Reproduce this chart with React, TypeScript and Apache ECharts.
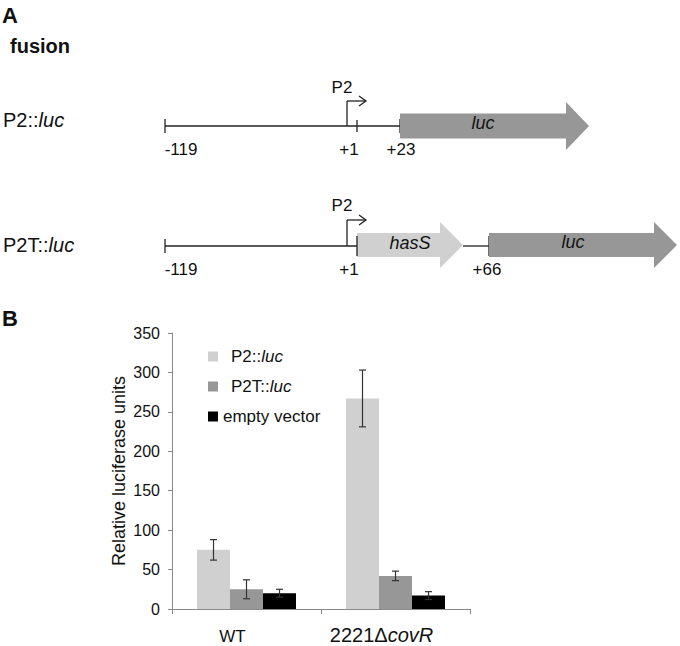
import React, { useEffect, useRef } from "react";
import * as echarts from "echarts";

const categories = ["WT", "2221ΔcovR"];
const seriesNames = ["P2::luc", "P2T::luc", "empty vector"];
const p2Luc = [75, 267];
const p2tLuc = [25, 42];
const emptyVector = [20, 17];
const p2LucErr = [[62, 88], [231, 303]];
const p2tLucErr = [[13, 37], [36, 48]];
const emptyErr = [[15, 25], [12, 22]];
const yTicks = { min: 0, max: 350, interval: 50 };

const FONT = "Liberation Sans, Arial, sans-serif";
const LIGHT = "#d0d0d0";
const MID = "#979797";
const AXIS = "#8a8a8a";

function hline(x1: number, x2: number, y: number, w = 1.3) {
  return { type: "line", shape: { x1, y1: y, x2, y2: y }, style: { stroke: "#222", lineWidth: w } };
}
function vline(x: number, y1: number, y2: number, w = 1.3) {
  return { type: "line", shape: { x1: x, y1, x2: x, y2 }, style: { stroke: "#222", lineWidth: w } };
}
function txt(text: string, x: number, y: number, size: number, opts: any = {}) {
  return {
    type: "text",
    x,
    y,
    style: {
      text,
      fontSize: size,
      fontFamily: FONT,
      fill: "#111",
      align: opts.align || "center",
      verticalAlign: "middle",
      fontWeight: opts.bold ? "bold" : "normal",
      fontStyle: opts.italic ? "italic" : "normal",
      rich: opts.rich,
    },
  };
}
function geneArrow(x1: number, xh: number, x2: number, yc: number, half: number, headHalf: number, color: string) {
  return {
    type: "polygon",
    shape: {
      points: [
        [x1, yc - half],
        [xh, yc - half],
        [xh, yc - headHalf],
        [x2, yc],
        [xh, yc + headHalf],
        [xh, yc + half],
        [x1, yc + half],
      ],
    },
    style: { fill: color },
  };
}
function promoter(x: number, yBase: number, yTop: number, xEnd: number) {
  return [
    vline(x, yBase, yTop),
    hline(x, xEnd, yTop),
    {
      type: "polyline",
      shape: { points: [[xEnd - 7, yTop - 5], [xEnd, yTop], [xEnd - 7, yTop + 5]] },
      style: { stroke: "#222", lineWidth: 1.3, fill: "none" },
    },
  ];
}

const richLabel = {
  n: { fontSize: 20, fontFamily: FONT, fill: "#111" },
  i: { fontSize: 20, fontFamily: FONT, fill: "#111", fontStyle: "italic" },
};

export default function App() {
  const ref = useRef<HTMLDivElement>(null);
  useEffect(() => {
    if (!ref.current) return;
    const chart = echarts.init(ref.current, null, { renderer: "svg" });
    const barW = 33;
    const offsets = [-barW, 0, barW];
    const errData: any[] = [];
    [p2LucErr, p2tLucErr, emptyErr].forEach((arr, si) => {
      arr.forEach((e, ci) => errData.push([ci, e[0], e[1], si]));
    });

    const graphic: any[] = [
      txt("A", 2, 15, 22, { bold: true, align: "left" }),
      txt("fusion", 10, 46, 20, { bold: true, align: "left" }),
      txt("B", 2, 318, 22, { bold: true, align: "left" }),
      // row 1
      txt("{n|P2::}{i|luc}", 3, 120, 20, { align: "left", rich: richLabel }),
      hline(165, 400, 126),
      vline(165, 119, 133),
      vline(357, 120, 132),
      vline(400, 119, 133),
      ...promoter(347, 126, 101, 366),
      txt("P2", 342, 87, 17),
      geneArrow(400, 566, 589, 126, 12.5, 24, MID),
      txt("luc", 483, 123, 18, { italic: true }),
      txt("-119", 181, 149, 17),
      txt("+1", 349, 149, 17),
      txt("+23", 401, 149, 17),
      // row 2
      txt("{n|P2T::}{i|luc}", 3, 245, 20, { align: "left", rich: richLabel }),
      hline(165, 357, 246),
      vline(165, 239, 253),
      ...promoter(347, 246, 220, 366),
      txt("P2", 342, 205, 17),
      geneArrow(357, 440, 463, 245, 12, 23, LIGHT),
      vline(357, 236, 256),
      txt("hasS", 410, 243, 18, { italic: true }),
      hline(463, 489, 246),
      vline(489, 236, 256),
      geneArrow(489, 654, 677, 245, 12, 23, MID),
      txt("luc", 573, 242, 18, { italic: true }),
      txt("-119", 181, 269, 17),
      txt("+1", 349, 269, 17),
      txt("+66", 487, 269, 17),
    ];

    const legendRich = {
      n: { fontSize: 17, fontFamily: FONT, color: "#111" },
      i: { fontSize: 17, fontFamily: FONT, color: "#111", fontStyle: "italic" },
      pn: { fontSize: 17, fontFamily: FONT, color: "#111", padding: [0, 0, 0, 8] },
    };

    chart.setOption({
      animation: false,
      graphic,
      grid: { left: 172, right: 210, top: 333, bottom: 37, containLabel: false },
      legend: {
        orient: "vertical",
        left: 203,
        top: 343,
        itemWidth: 10,
        itemHeight: 10,
        itemGap: 13,
        icon: "rect",
        data: seriesNames,
        formatter: (name: string) => {
          if (name === "empty vector") return "{n|empty vector}";
          const [a] = name.split("::");
          return `{pn|${a}::}{i|luc}`;
        },
        textStyle: { rich: legendRich, fontSize: 17, fontFamily: FONT },
      },
      xAxis: {
        type: "category",
        data: categories,
        axisLine: { lineStyle: { color: AXIS, width: 1 } },
        axisTick: { show: true, length: 5, lineStyle: { color: AXIS } },
        axisLabel: {
          interval: 0,
          hideOverlap: false,
          margin: 16,
          fontSize: 20,
          fontFamily: FONT,
          color: "#111",
          formatter: (v: string) => (v === "WT" ? "{w|WT}" : "{d|2221Δ}{i|covR}"),
          rich: {
            w: { fontSize: 17, fontFamily: FONT, color: "#111", padding: [3, 28, 0, 0] },
            d: { fontSize: 20, fontFamily: FONT, color: "#111" },
            i: { fontSize: 20, fontFamily: FONT, color: "#111", fontStyle: "italic", padding: [0, 28, 0, 0] },
          },
        },
      },
      yAxis: {
        type: "value",
        min: yTicks.min,
        max: yTicks.max,
        interval: yTicks.interval,
        name: "Relative luciferase units",
        nameLocation: "middle",
        nameGap: 44,
        nameTextStyle: { fontSize: 18, fontFamily: FONT, color: "#111" },
        axisLine: { show: true, lineStyle: { color: AXIS, width: 1 } },
        axisTick: { show: true, length: 4, lineStyle: { color: AXIS } },
        splitLine: { show: false },
        axisLabel: { fontSize: 16, fontFamily: FONT, color: "#111", margin: 12 },
      },
      series: [
        { name: seriesNames[0], type: "bar", data: p2Luc, barWidth: barW, barGap: "0%", itemStyle: { color: LIGHT } },
        { name: seriesNames[1], type: "bar", data: p2tLuc, barWidth: barW, barGap: "0%", itemStyle: { color: MID } },
        { name: seriesNames[2], type: "bar", data: emptyVector, barWidth: barW, barGap: "0%", itemStyle: { color: "#000" } },
        {
          type: "custom",
          z: 10,
          data: errData,
          encode: { x: 0, y: [1, 2] },
          renderItem: (params: any, api: any) => {
            const ci = api.value(0);
            const si = api.value(3);
            const lo = api.coord([ci, api.value(1)]);
            const hi = api.coord([ci, api.value(2)]);
            const x = lo[0] + offsets[si];
            const cap = 3.5;
            const st = { stroke: "#333", lineWidth: 1.2 };
            return {
              type: "group",
              children: [
                { type: "line", shape: { x1: x, y1: lo[1], x2: x, y2: hi[1] }, style: st },
                { type: "line", shape: { x1: x - cap, y1: lo[1], x2: x + cap, y2: lo[1] }, style: st },
                { type: "line", shape: { x1: x - cap, y1: hi[1], x2: x + cap, y2: hi[1] }, style: st },
              ],
            };
          },
        },
      ],
    });
    return () => chart.dispose();
  }, []);
  return (
    <div
      ref={ref}
      style={{ position: "fixed", left: 0, top: 0, width: 680, height: 646, background: "#fff" }}
    />
  );
}
